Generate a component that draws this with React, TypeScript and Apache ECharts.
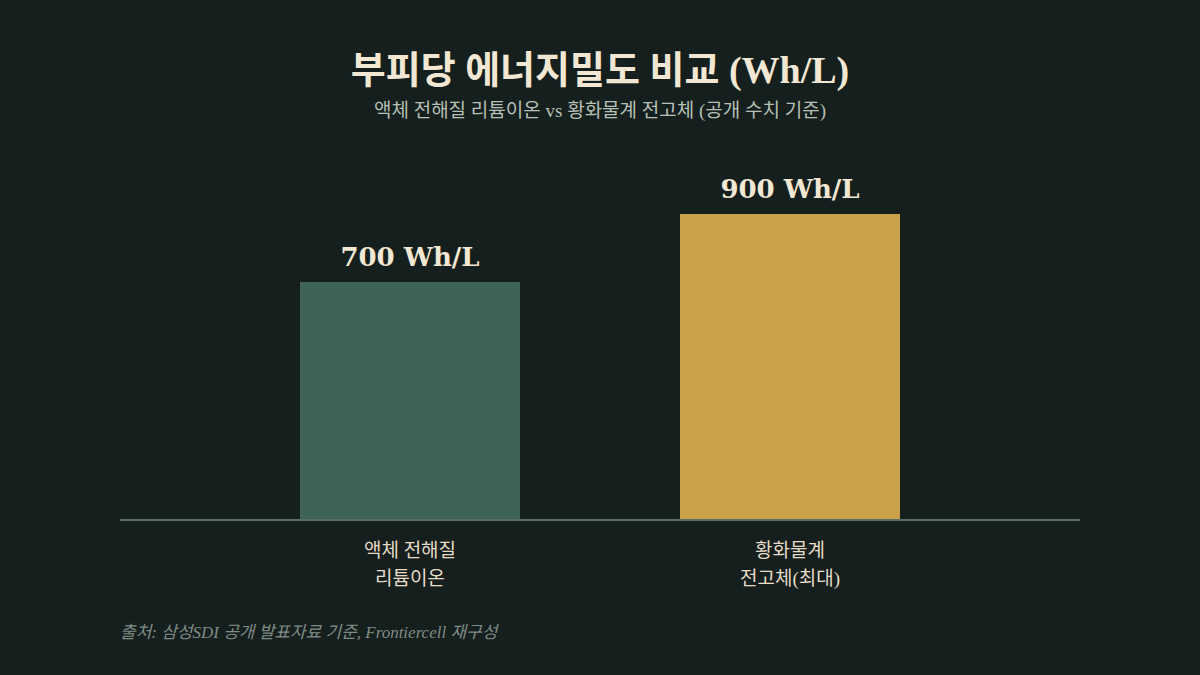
import React, { useEffect, useRef } from "react";
import * as echarts from "echarts";

const categories = ["액체 전해질\n리튬이온", "황화물계\n전고체(최대)"];
const values = [700, 900];
const barColors = ["#3f6259", "#c9a24b"];
const unit = "Wh/L";

const FONT = "'Liberation Serif', 'Noto Sans CJK KR', serif";
const VFONT = "'DejaVu Serif', 'Liberation Serif', serif";

export default function App() {
  const ref = useRef<HTMLDivElement>(null);
  useEffect(() => {
    if (!ref.current) return;
    const chart = echarts.init(ref.current, null, { renderer: "svg" });
    chart.setOption({
      animation: false,
      backgroundColor: "#151f1d",
      title: {
        text: "부피당 에너지밀도 비교 (Wh/L)",
        subtext: "액체 전해질 리튬이온 vs 황화물계 전고체 (공개 수치 기준)",
        left: "center",
        top: 46,
        itemGap: 12,
        textStyle: { color: "#f1e7d3", fontSize: 38, fontWeight: "bold", fontFamily: FONT },
        subtextStyle: { color: "#b5c0b6", fontSize: 19, fontFamily: FONT },
      },
      grid: { left: 220, right: 220, top: 180, bottom: 155 },
      xAxis: {
        type: "category",
        data: categories,
        axisLine: { show: false },
        axisTick: { show: false },
        axisLabel: {
          color: "#e6dcc8",
          fontSize: 19,
          lineHeight: 28,
          margin: 16,
          fontFamily: FONT,
        },
      },
      yAxis: {
        type: "value",
        min: 0,
        max: 1000,
        show: false,
        splitLine: { show: false },
      },
      series: [
        {
          type: "bar",
          barWidth: 220,
          data: values.map((v, i) => ({ value: v, itemStyle: { color: barColors[i] } })),
          label: {
            show: true,
            position: "top",
            distance: 12,
            formatter: (p: any) => `${p.value} ${unit}`,
            color: "#f1e7d3",
            fontSize: 26,
            fontWeight: "bold",
            fontFamily: VFONT,
          },
        },
      ],
      graphic: [
        {
          type: "line",
          shape: { x1: 120, y1: 520, x2: 1080, y2: 520 },
          style: { stroke: "#5b6e66", lineWidth: 2 },
          z: 10,
        },
        {
          type: "text",
          left: 120,
          top: 624,
          style: {
            text: "출처: 삼성SDI 공개 발표자료 기준, Frontiercell 재구성",
            fill: "#7f8c85",
            fontSize: 17,
            fontStyle: "italic",
            fontFamily: FONT,
          },
        },
      ],
    });
    return () => chart.dispose();
  }, []);
  return <div ref={ref} style={{ width: 1200, height: 675, position: "absolute", left: 0, top: 0 }} />;
}
